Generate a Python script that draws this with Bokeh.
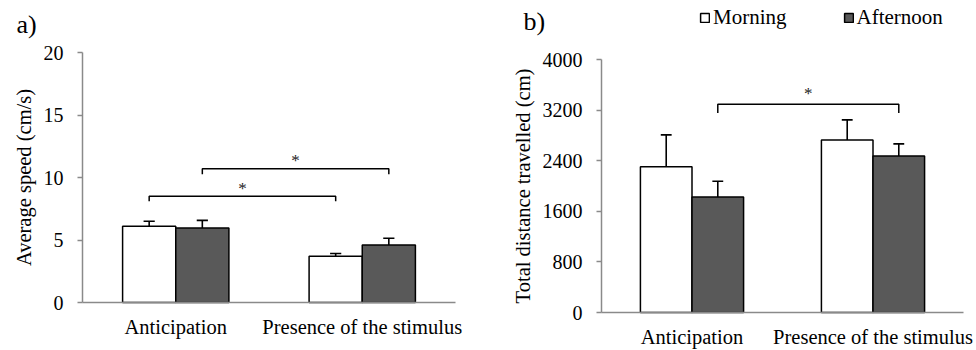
from bokeh.plotting import figure
from bokeh.layouts import row
from bokeh.models import ColumnDataSource, FixedTicker, Legend, LegendItem, Label, Range1d
from bokeh.embed import file_html
from bokeh.resources import INLINE

# ---------------- data ----------------
categories = ["Anticipation", "Presence of the stimulus"]
series_names = ["Morning", "Afternoon"]

speed_morning = [6.1, 3.7]
speed_morning_err = [0.4, 0.22]
speed_afternoon = [5.97, 4.6]
speed_afternoon_err = [0.6, 0.54]
speed_ticks = [0, 5, 10, 15, 20]

dist_morning = [2306, 2729]
dist_morning_err = [502, 317]
dist_afternoon = [1827, 2476]
dist_afternoon_err = [247, 190]
dist_ticks = [0, 800, 1600, 2400, 3200, 4000]

# significance brackets: series index at both ends, category from / to, height, end of the drop, star
speed_br_series = [0, 1]
speed_br_from = [0, 0]
speed_br_to = [1, 1]
speed_br_y = [8.5, 10.7]
speed_br_drop = [8.1, 10.27]
speed_star_y = [9.15, 11.35]

dist_br_series = [1]
dist_br_from = [0]
dist_br_to = [1]
dist_br_y = [3293]
dist_br_drop = [3156]
dist_star_y = [3470]

# ---------------- styling / layout ----------------
FONT = "Liberation Serif"
BW = 0.285
OFF = [-BW / 2, BW / 2]
FILLS = ["white", "#595959"]
AXIS_GREY = "#8a8a8a"
CAP = 0.03
PAGE_TOP, PAGE_BOTTOM = 0, 349
FIG_H = PAGE_BOTTOM - PAGE_TOP


def make_panel(tag, tag_x, tag_dy, ylabel, vals, errs, ticks, br_series, br_from, br_to, br_y,
               br_drop, star_y, fig_left, fig_right, axis_x, axis_end_x, zero_y, top_y):
    """All geometry arguments are page pixels."""
    n = len(categories)
    width = fig_right - fig_left
    unit = (axis_end_x - axis_x) / n
    x_start = -(axis_x - fig_left) / unit
    x_end = n + (fig_right - axis_end_x) / unit
    yscale = (zero_y - top_y) / (ticks[-1] - ticks[0])
    y_start = ticks[0] - (PAGE_BOTTOM - zero_y) / yscale
    y_end = ticks[-1] + (top_y - PAGE_TOP) / yscale

    p = figure(width=width, height=FIG_H, x_range=Range1d(x_start, x_end),
               y_range=Range1d(y_start, y_end), output_backend="svg", title=None,
               toolbar_location=None, min_border_left=0, min_border_right=0,
               min_border_top=0, min_border_bottom=0)
    p.outline_line_color = None
    p.xgrid.visible = False
    p.ygrid.visible = False
    p.background_fill_color = "white"
    p.border_fill_color = "white"

    bar_renderers = []
    for s in range(2):
        xs = [i + 0.5 + OFF[s] for i in range(n)]
        ups = [v + e for v, e in zip(vals[s], errs[s])]
        src = ColumnDataSource(dict(x=xs, top=vals[s], up=ups,
                                    x0=[x - CAP for x in xs], x1=[x + CAP for x in xs]))
        p.segment(x0="x", y0="top", x1="x", y1="up", line_color="black", line_width=1.6, source=src)
        p.segment(x0="x0", y0="up", x1="x1", y1="up", line_color="black", line_width=1.6, source=src)
        r = p.vbar(x="x", top="top", bottom=0, width=BW, fill_color=FILLS[s], line_color="black",
                   line_width=1.5, source=src)
        bar_renderers.append(r)

    bxs, bys, sx, sy = [], [], [], []
    for k in range(len(br_y)):
        xa = br_from[k] + 0.5 + OFF[br_series[k]]
        xb = br_to[k] + 0.5 + OFF[br_series[k]]
        bxs.append([xa, xa, xb, xb])
        bys.append([br_drop[k], br_y[k], br_y[k], br_drop[k]])
        sx.append((xa + xb) / 2)
        sy.append(star_y[k])
    p.multi_line(xs=bxs, ys=bys, line_color="black", line_width=1.5)
    p.text(x=sx, y=sy, text=["*"] * len(sx), text_font={"value": FONT}, text_font_size="17px",
           text_align="center", text_baseline="middle", text_color="#222222")

    # x axis, fixed at y = 0
    p.xaxis.fixed_location = 0
    p.xaxis.bounds = (0, n)
    p.xaxis.ticker = FixedTicker(ticks=[i + 0.5 for i in range(n)])
    p.xaxis.major_label_overrides = {i + 0.5: c for i, c in enumerate(categories)}
    p.xaxis.major_tick_line_color = None
    p.xaxis.minor_tick_line_color = None
    p.xaxis.major_tick_out = 0
    p.xaxis.major_tick_in = 0
    p.xaxis.axis_line_color = AXIS_GREY
    p.xaxis.axis_line_width = 1.5
    p.xaxis.major_label_standoff = 13
    p.xaxis.major_label_text_font = FONT
    p.xaxis.major_label_text_font_size = "20.5px"
    p.xaxis.major_label_text_color = "black"

    # y axis, fixed at x = 0
    p.yaxis.fixed_location = 0
    p.yaxis.bounds = (ticks[0], ticks[-1])
    p.yaxis.ticker = FixedTicker(ticks=ticks)
    p.yaxis.minor_tick_line_color = None
    p.yaxis.major_tick_out = 5
    p.yaxis.major_tick_in = 0
    p.yaxis.major_tick_line_color = AXIS_GREY
    p.yaxis.major_tick_line_width = 1.3
    p.yaxis.axis_line_color = AXIS_GREY
    p.yaxis.axis_line_width = 1.5
    p.yaxis.major_label_standoff = 14
    p.yaxis.major_label_text_font = FONT
    p.yaxis.major_label_text_font_size = "20px"
    p.yaxis.major_label_text_color = "black"
    p.yaxis.axis_label = ylabel
    p.yaxis.axis_label_text_font = FONT
    p.yaxis.axis_label_text_font_size = "20.5px"
    p.yaxis.axis_label_text_font_style = "normal"
    p.yaxis.axis_label_text_color = "black"
    p.yaxis.axis_label_standoff = 6

    p.add_layout(Label(x=0, y=y_end, x_offset=tag_x - axis_x, y_offset=-tag_dy, text=tag,
                       text_font=FONT, text_font_size="26px", text_baseline="top",
                       text_color="black"))
    return p, bar_renderers


# panel a spans page x 0..490, panel b spans page x 490..975
pa, _ = make_panel("a)", 16, 9, "Average speed (cm/s)",
                   [speed_morning, speed_afternoon], [speed_morning_err, speed_afternoon_err],
                   speed_ticks, speed_br_series, speed_br_from, speed_br_to, speed_br_y,
                   speed_br_drop, speed_star_y, 0, 490, 82, 455, 302, 52)

pb, rb = make_panel("b)", 523, 6, "Total distance travelled (cm)",
                    [dist_morning, dist_afternoon], [dist_morning_err, dist_afternoon_err],
                    dist_ticks, dist_br_series, dist_br_from, dist_br_to, dist_br_y,
                    dist_br_drop, dist_star_y, 490, 975, 601, 963, 312, 59)

legend = Legend(items=[LegendItem(label=series_names[0], renderers=[rb[0]]),
                       LegendItem(label=series_names[1], renderers=[rb[1]])],
                orientation="horizontal", location=(209, PAGE_BOTTOM - 30))
legend.glyph_width = 11
legend.glyph_height = 11
legend.label_standoff = 3
legend.spacing = 56
legend.padding = 0
legend.margin = 0
legend.border_line_color = None
legend.background_fill_alpha = 0
legend.label_text_font = FONT
legend.label_text_font_size = "21px"
legend.label_text_color = "black"
pb.add_layout(legend)

layout = row(pa, pb)
open("out.html", "w").write(file_html(layout, INLINE))
